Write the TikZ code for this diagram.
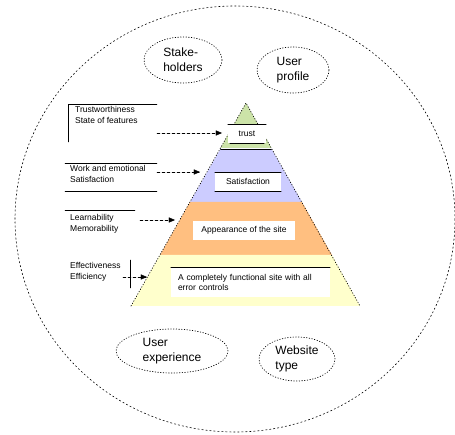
\documentclass[tikz,border=0pt]{standalone}
\usepackage{fontspec}
\setmainfont{Liberation Sans}
\usetikzlibrary{arrows,shapes.geometric}
\definecolor{cce3a8}{rgb}{0.8,0.89,0.66}
\definecolor{ccccff}{rgb}{0.8,0.8,1.}
\definecolor{ffbf80}{rgb}{1.,0.75,0.5}
\definecolor{ffffcc}{rgb}{1.,1.,0.8}
\tikzset{
	lbl/.style={anchor=north west,inner sep=0pt,align=left,font=\fontsize{8.5}{11}\selectfont},
	layerbox/.style={fill=white,inner sep=0pt,font=\fontsize{8.5}{10}\selectfont},
	factor/.style={ellipse,draw,dotted,line width=0.7pt,inner sep=0pt,align=left,font=\fontsize{12}{15}\selectfont}
}

\begin{document}
\begin{tikzpicture}[line cap=round,line join=round,>=triangle 45,x=1pt,y=-1pt]
	\useasboundingbox (0,0) rectangle (455,435);
	\draw [line width=0.6pt,dash pattern=on 1.5pt off 2.5pt] (235,219) ellipse (220 and 213);
	% pyramid layers
	\coordinate (apex) at (246,103);
	\coordinate (bl) at (131,306);
	\coordinate (br) at (360,306);
	\fill [cce3a8] (apex) -- (220.5,148) -- (271.5,148) -- cycle;
	\fill [ccccff] (220.5,149) -- (271.5,149) -- (302,202) -- (190,202) -- cycle;
	\fill [ffbf80] (190,202) -- (302,202) -- (332,255) -- (160,255) -- cycle;
	\fill [ffffcc] (160,255) -- (332,255) -- (br) -- (bl) -- cycle;
	\draw [dotted,line width=0.7pt] (bl) -- (apex) -- (br);
	\draw (220.5,149) -- (271.5,149);
	\node[layerbox,minimum width=38,minimum height=19] (trust) at (247,133.5) {trust};
	\node[layerbox,minimum width=66,minimum height=19] (satis) at (248,181.5) {Satisfaction};
	\node[layerbox,minimum width=102,minimum height=19] (appear) at (244,230.5) {Appearance of the site};
	\node[layerbox,minimum width=159,minimum height=30,text width=145,align=left] (func) at (250.5,282) {A completely functional site with all\\error controls};
	\draw (trust.north west) -- (trust.north east);
	\draw ([xshift=2]trust.south west) -- ([xshift=-2]trust.south east);
	\draw (satis.north west) -- (satis.north east);
	\draw (satis.south west) -- (satis.south east);
	\draw (func.north west) -- (func.north east);
	% quality labels
	\node[lbl] (trustlbl) at (75,106) {Trustworthiness\\State of features};
	\node[lbl] (satislbl) at (70,165) {Work and emotional\\Satisfaction};
	\node[lbl] (learnlbl) at (70,214) {Learnability\\Memorability};
	\node[lbl] (efflbl) at (70,262) {Effectiveness\\Efficiency};
	\draw (68,142) -- (68,104) -- (157,104);
	\draw (65,163) -- (157,163);
	\draw (65,191) -- (157,191);
	\draw (65,210) -- (135,210);
	\draw (130,260) -- (130,288);
	\coordinate (a1) at (157,133);
	\coordinate (b1) at (222,133);
	\coordinate (a2) at (157,172);
	\coordinate (b2) at (200,172);
	\coordinate (a3) at (140,220);
	\coordinate (b3) at (175,220);
	\coordinate (a4) at (123,277);
	\coordinate (b4) at (147,277);
	\draw [->,densely dashed] (a1) -- (b1);
	\draw [->,densely dashed] (a2) -- (b2);
	\draw [->,densely dashed] (a3) -- (b3);
	\draw [->,densely dashed] (a4) -- (b4);
	% context factors
	\node[factor,minimum width=78,minimum height=46] (stake) at (183,60) {Stake-\\holders};
	\node[factor,minimum width=72,minimum height=46] (profile) at (293,70) {User\\profile};
	\node[factor,minimum width=112,minimum height=44] (uxp) at (172,351) {User\\experience};
	\node[factor,minimum width=76,minimum height=44] (webtype) at (297,359) {Website\\type};
\end{tikzpicture}
\end{document}
